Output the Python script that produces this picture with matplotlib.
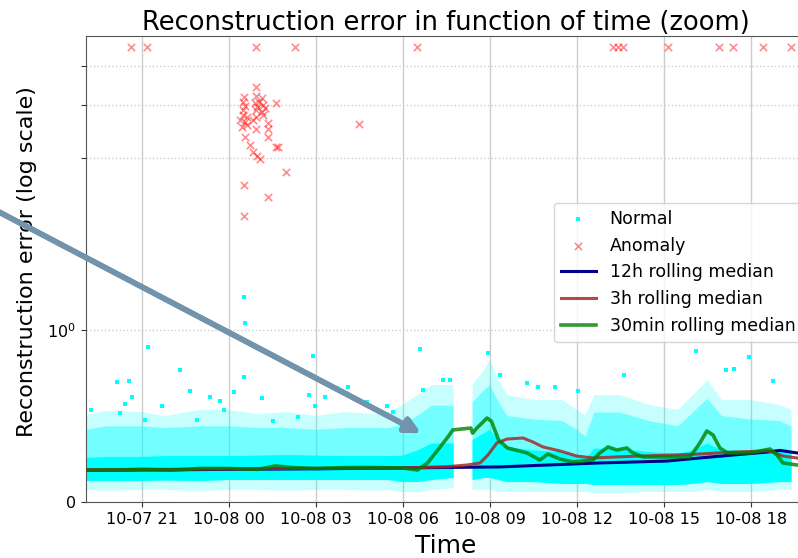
import numpy as np
import pandas as pd
import matplotlib
matplotlib.use("Agg")
import matplotlib.pyplot as plt
import matplotlib.dates as mdates
import matplotlib.patheffects as pe

BASE = pd.Timestamp("2019-10-08 00:00")

def to_time(hours):
    return (BASE + pd.to_timedelta(np.asarray(hours, dtype=float), unit="h")).to_numpy()

nan = np.nan
# ---- Normal points: envelope of the cloud (hours from 10-08 00:00) ----
cloud_hours  = [-4.93, -4.2, -3.0, -2.2, -1.0, 0.0, 1.0, 2.0, 3.0, 4.0, 5.0, 5.5, 6.0, 6.5, 7.0, 7.75, 7.8, 8.35, 8.4, 8.8, 9.0, 9.3, 9.6,
                10.5, 11.5, 12.0, 12.3, 12.6, 13.5, 14.5, 15.5, 16.0, 16.5, 17.0, 18.0, 19.0, 19.4]
sparse_top   = [0.506, 0.53, 0.523, 0.50, 0.535, 0.535, 0.51, 0.523, 0.50, 0.523, 0.51, 0.523, 0.564, 0.622, 0.680, 0.680, nan, nan, 0.680, 0.767, 0.826, 0.709, 0.622,
                0.593, 0.593, 0.535, 0.506, 0.622, 0.622, 0.564, 0.535, 0.622, 0.709, 0.593, 0.593, 0.564, 0.535]
dense_top    = [0.42, 0.44, 0.44, 0.43, 0.44, 0.44, 0.43, 0.43, 0.42, 0.43, 0.43, 0.43, 0.45, 0.50, 0.56, 0.56, nan, nan, 0.58, 0.65, 0.68, 0.58, 0.50,
                0.48, 0.47, 0.42, 0.38, 0.52, 0.52, 0.47, 0.44, 0.52, 0.60, 0.50, 0.48, 0.47, 0.44]
core_top     = [0.256, 0.262, 0.262, 0.267, 0.267, 0.267, 0.27, 0.273, 0.27, 0.267, 0.267, 0.267, 0.27, 0.30, 0.34, 0.34, nan, nan, 0.36, 0.40, 0.42, 0.36, 0.32,
                0.30, 0.29, 0.27, 0.25, 0.31, 0.31, 0.29, 0.28, 0.30, 0.34, 0.30, 0.30, 0.30, 0.29]
core_bottom  = [0.122, 0.122, 0.122, 0.125, 0.122, 0.128, 0.128, 0.128, 0.128, 0.128, 0.128, 0.128, 0.116, 0.116, 0.128, 0.140, nan, nan, 0.128, 0.140, 0.140, 0.128, 0.116,
                0.116, 0.105, 0.105, 0.105, 0.099, 0.099, 0.099, 0.099, 0.105, 0.116, 0.105, 0.105, 0.116, 0.116]
sparse_bottom = [0.070, 0.065, 0.070, 0.070, 0.065, 0.070, 0.070, 0.065, 0.070, 0.070, 0.065, 0.070, 0.058, 0.058, 0.070, 0.081, nan, nan, 0.070, 0.070, 0.070, 0.058, 0.058,
                 0.058, 0.058, 0.058, 0.058, 0.052, 0.052, 0.058, 0.058, 0.058, 0.070, 0.058, 0.058, 0.070, 0.070]

# ---- Normal points: isolated high values ----
normal_hours = [-2.79, -1.69, -3.86, -3.45, -3.34, -4.76, -3.59, -3.76, -2.90, -2.31, -1.34, -0.66, -0.31, 0.17, 0.52,
                0.83, 1.14, -0.17, 2.90, 2.76, 2.97, 3.31, 3.72, 4.10, 4.76, 5.45, 5.66, 2.38, 1.52, -1.10, 0.55,
                0.52, 6.59, 8.93, 16.10, 17.93, 9.34, 13.62, 17.14, 17.41, 18.76, 10.28, 11.24, 12.03, 6.69, 7.38,
                7.62, 10.66]
normal_values = [0.901, 0.767, 0.698, 0.703, 0.610, 0.535, 0.570, 0.517, 0.477, 0.558, 0.645, 0.610, 0.587, 0.640, 0.727,
                 0.907, 0.605, 0.535, 0.849, 0.622, 0.558, 0.610, 0.663, 0.669, 0.581, 0.558, 0.523, 0.494, 0.471, 0.477, 1.10,
                 1.56, 0.890, 0.866, 0.878, 0.843, 0.738, 0.738, 0.767, 0.773, 0.703, 0.692, 0.669, 0.645, 0.651, 0.709,
                 0.709, 0.669]

# ---- Anomalies ----
anomaly_hours = [0.93, 0.52, 0.93, 1.14, 0.48, 0.55, 0.90, 0.97, 1.17, 1.62, 0.48, 0.93, 1.14, 1.17, 0.38, 0.55,
                 0.62, 0.45, 0.83, 0.93, 1.34, 1.34, 0.93, 0.55, 1.34, 0.72, 1.69, 1.62, 0.83, 0.97, 1.07, 1.97,
                 0.52, 1.34, 0.52, 4.48, 0.62, 0.48, 1.03, 1.24,
                 -3.38, -2.83, 0.93, 2.28, 6.48, 13.24, 13.41, 13.59, 15.14, 16.90, 17.38, 18.41, 19.38]
anomaly_values = [25.9, 22.6, 22.9, 22.3, 21.2, 20.1, 20.9, 19.8, 20.3, 20.9, 19.0, 19.0, 18.5, 17.8, 16.6, 16.2,
                  15.6, 15.1, 16.6, 17.3, 16.0, 14.7, 14.7, 13.3, 13.3, 11.9, 11.6, 11.6, 10.8, 10.3, 9.9, 8.3,
                  7.0, 5.9, 4.6, 15.8, 17.3, 17.8, 21.2, 19.5,
                  44.2, 44.2, 44.2, 44.2, 44.2, 44.2, 44.2, 44.2, 44.2, 44.2, 44.2, 44.2, 44.2]

# ---- Rolling medians ----
med12_hours  = [-4.93, -2.0, 0.0, 3.0, 6.0, 9.34, 12.79, 15.1, 16.24, 17.38, 18.55, 19.0, 19.6, 19.9]
med12_values = [0.185, 0.187, 0.19, 0.193, 0.198, 0.204, 0.227, 0.238, 0.256, 0.273, 0.290, 0.300, 0.285, 0.280]

med3_hours  = [-4.93, -2.0, 0.0, 2.0, 4.0, 6.0, 7.5, 8.2, 8.66, 8.93, 9.24, 9.59, 10.14, 10.48, 10.83, 11.41,
               12.0, 12.55, 13.38, 14.17, 15.31, 16.24, 17.38, 18.55, 18.76, 19.1, 19.59, 19.9]
med3_values = [0.188, 0.19, 0.193, 0.195, 0.196, 0.198, 0.205, 0.215, 0.227, 0.273, 0.343, 0.366, 0.372, 0.349,
               0.320, 0.297, 0.267, 0.256, 0.262, 0.267, 0.273, 0.279, 0.290, 0.297, 0.290, 0.267, 0.256, 0.250]

med30_hours  = [-4.93, -4.0, -3.0, -2.0, -1.0, 0.0, 1.0, 1.6, 2.2, 3.0, 4.0, 5.0, 6.0, 6.5, 6.85, 7.2, 7.55,
                7.72, 8.34, 8.40, 8.55, 8.9, 9.05, 9.3, 9.6, 10.28, 10.72, 11.0, 11.41, 11.86, 12.55, 12.79,
                13.07, 13.38, 13.72, 13.93, 14.28, 15.9, 16.24, 16.48, 16.69, 16.93, 17.2, 17.97, 18.66, 18.9,
                19.1, 19.59, 19.9]
med30_values = [0.185, 0.185, 0.19, 0.185, 0.195, 0.195, 0.19, 0.21, 0.20, 0.195, 0.20, 0.20, 0.198, 0.186,
                0.227, 0.302, 0.378, 0.419, 0.430, 0.400, 0.430, 0.488, 0.470, 0.360, 0.314, 0.285, 0.244, 0.279,
                0.250, 0.233, 0.244, 0.285, 0.320, 0.302, 0.314, 0.285, 0.262, 0.262, 0.343, 0.413, 0.390, 0.314,
                0.285, 0.285, 0.308, 0.273, 0.227, 0.215, 0.215]

y_ticks = [0, 1, 10, 20.3, 34.3]
y_tick_labels = ["0", r"$\mathdefault{10^{0}}$", "", "", ""]

# ---------------------------------------------------------------------------
fig = plt.figure(figsize=(7.98, 5.58), dpi=100)
ax = fig.add_axes([86 / 798, 56 / 558, 720 / 798, 466.5 / 558])
ax.set_yscale("symlog", linthresh=1, linscale=0.9)

CYAN = "#00ffff"
tc = to_time(cloud_hours)
ax.fill_between(tc, sparse_bottom, sparse_top, facecolor=CYAN, alpha=0.22,
                linewidth=0, zorder=2)
ax.fill_between(tc, core_bottom, dense_top, facecolor=CYAN, alpha=0.42,
                linewidth=0, zorder=2)
ax.fill_between(tc, core_bottom, core_top, facecolor=CYAN, alpha=1.0,
                linewidth=0, zorder=2)
ax.scatter(to_time(normal_hours), normal_values, s=6, marker="s", color=CYAN,
           linewidths=0, label="Normal", zorder=3)
ax.scatter(to_time(anomaly_hours), anomaly_values, s=28, marker="x", color="red",
           alpha=0.45, linewidths=1.2, label="Anomaly", zorder=3)

ax.plot(to_time(med12_hours), med12_values, color="darkblue", lw=2.2, label="12h rolling median", zorder=4)
ax.plot(to_time(med3_hours), med3_values, color="#a52a2a", lw=2.2, alpha=0.85, label="3h rolling median", zorder=5)
ax.plot(to_time(med30_hours), med30_values, color="green", lw=2.6, alpha=0.8, label="30min rolling median", zorder=6)

ax.set_ylim(0, 51.5)
ax.set_xlim(to_time([-4.93])[0], to_time([19.9])[0])
ax.set_yticks(y_ticks)
ax.set_yticklabels(y_tick_labels)
ax.yaxis.set_minor_locator(matplotlib.ticker.NullLocator())
ax.xaxis.set_major_locator(mdates.HourLocator(byhour=range(0, 24, 3)))
ax.xaxis.set_major_formatter(mdates.DateFormatter("%m-%d %H"))
ax.tick_params(axis="both", labelsize=11.5, colors="#333333", labelcolor="black")

ax.grid(axis="x", color="#cccccc", lw=1.0)
ax.grid(axis="y", color="#cccccc", lw=1.0, ls=":")
ax.set_axisbelow(True)
for s in ax.spines.values():
    s.set_color("#555555")

ax.set_title("Reconstruction error in function of time (zoom)", fontsize=18.5, pad=1)
ax.set_xlabel("Time", fontsize=18, labelpad=5)
ax.set_ylabel("Reconstruction error (log scale)", fontsize=16)
ax.yaxis.set_label_coords(-0.068, 0.515)

leg = ax.legend(loc="upper left", bbox_to_anchor=(554 / 798, (558 - 203) / 558),
                bbox_transform=fig.transFigure, fontsize=12.5, frameon=True,
                borderaxespad=0)

ann = ax.annotate("", xy=(to_time([6.62])[0], 0.40), xycoords="data",
                  xytext=(-20, 356), textcoords="figure pixels",
                  arrowprops=dict(arrowstyle="-|>", color="#7193ab", lw=4, mutation_scale=22,
                                  shrinkA=0, shrinkB=0),
                  annotation_clip=False, zorder=10)
ann.arrow_patch.set_path_effects([pe.withSimplePatchShadow(offset=(2, -2), alpha=0.3), pe.Normal()])

fig.savefig("out.png", dpi=100)
